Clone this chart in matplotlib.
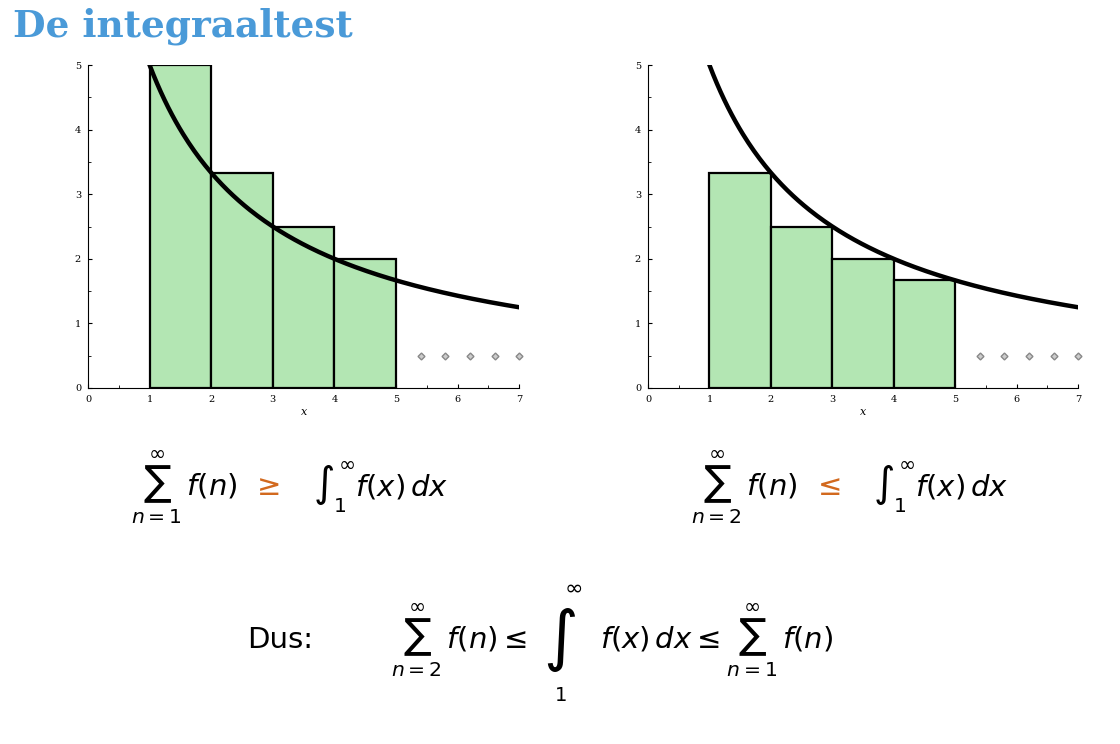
import numpy as np
import matplotlib
matplotlib.use('Agg')
from matplotlib import pyplot as plt

plt.rcParams['mathtext.fontset'] = 'dejavusans'

# data
n_left = [1, 2, 3, 4]          # left edges of the bars
upper_heights = [5.0, 3.33, 2.5, 2.0]   # f(n), n=1..4
lower_heights = [3.33, 2.5, 2.0, 1.67]  # f(n), n=2..5
curve_x = np.linspace(1, 7, 200)
curve_y = 10 / (curve_x + 1)
dots_x = [5.4, 5.8, 6.2, 6.6, 7.0]
dots_y = [0.5, 0.5, 0.5, 0.5, 0.5]

green = '#b3e6b3'
orange = '#d2691e'

fig = plt.figure(figsize=(11.2, 7.44), dpi=100)


def panel(rect, heights):
    ax = fig.add_axes(rect)
    ax.bar(n_left, heights, width=1, align='edge', color=green,
           edgecolor='black', linewidth=1.6, zorder=2)
    ax.plot(curve_x, curve_y, color='black', linewidth=3.2, zorder=3)
    ax.plot(dots_x, dots_y, 'D', color='#888888', markersize=3.5,
            markerfacecolor='#cccccc', zorder=3, clip_on=False)
    ax.set_xlim(0, 7)
    ax.set_ylim(0, 5)
    ax.spines['top'].set_visible(False)
    ax.spines['right'].set_visible(False)
    ax.set_xticks(range(8))
    ax.set_yticks(range(6))
    ax.set_xticks(np.arange(0.5, 7, 1), minor=True)
    ax.set_yticks(np.arange(0.5, 5, 1), minor=True)
    ax.tick_params(labelsize=7, length=3, direction='in', pad=5)
    ax.tick_params(which='minor', length=2, direction='in')
    for lab in ax.get_xticklabels() + ax.get_yticklabels():
        lab.set_family('DejaVu Serif')
    ax.set_xlabel('x', fontsize=8, style='italic', family='DejaVu Serif', labelpad=2)
    ax.patch.set_alpha(0)
    return ax


panel([0.0786, 0.4785, 0.385, 0.434], upper_heights)
panel([0.5786, 0.4785, 0.384, 0.434], lower_heights)

fig.text(0.012, 0.965, 'De integraaltest', fontsize=27, color='#4a9ad8',
         fontweight='bold', family='DejaVu Serif', va='center')

fs = 21
fig.text(0.165, 0.345, r'$\sum_{n=1}^{\infty}\, f(n)$', fontsize=fs, ha='center', va='center')
fig.text(0.237, 0.345, r'$\geq$', fontsize=fs, color=orange, ha='center', va='center')
fig.text(0.34, 0.345, r'$\int_{1}^{\infty} f(x)\,dx$', fontsize=fs, ha='center', va='center')

fig.text(0.665, 0.345, r'$\sum_{n=2}^{\infty}\, f(n)$', fontsize=fs, ha='center', va='center')
fig.text(0.738, 0.345, r'$\leq$', fontsize=fs, color=orange, ha='center', va='center')
fig.text(0.84, 0.345, r'$\int_{1}^{\infty} f(x)\,dx$', fontsize=fs, ha='center', va='center')

fig.text(0.25, 0.14, 'Dus:', fontsize=fs, ha='center', va='center')
fig.text(0.41, 0.14, r'$\sum_{n=2}^{\infty}\, f(n) \leq$', fontsize=fs, ha='center', va='center')
fig.text(0.50, 0.14, r'$\int$', fontsize=34, ha='center', va='center')
fig.text(0.512, 0.21, r'$\infty$', fontsize=16, ha='center', va='center')
fig.text(0.50, 0.065, r'$1$', fontsize=14, ha='center', va='center')
fig.text(0.64, 0.14, r'$f(x)\,dx \leq \sum_{n=1}^{\infty}\, f(n)$', fontsize=fs, ha='center', va='center')

fig.savefig('out.png', dpi=100)
